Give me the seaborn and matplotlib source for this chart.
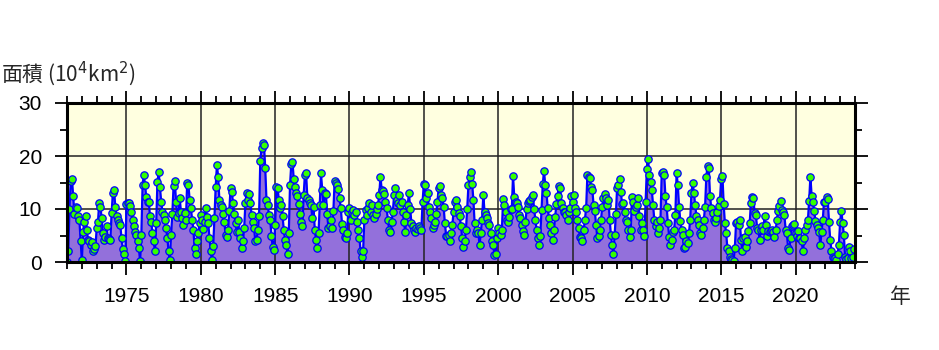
import numpy as np
import pandas as pd
import matplotlib
matplotlib.use('Agg')
import matplotlib.pyplot as plt
from matplotlib.ticker import MultipleLocator
import seaborn as sns

# ── Data (monthly values, 10^4 km^2) ─────────────────────────────────────────
START_YEAR = 1971

area_1970s = [
    0.0, 2.0, 10.0, 15.3, 15.7, 12.4, 9.0, 10.4, 10.2, 8.6, 8.0, 3.9,    # 1971
    0.4, 5.7, 7.6, 8.7, 6.0, 4.2, 3.9, 3.2, 3.7, 2.0, 2.5, 3.0,          # 1972
    6.5, 7.6, 11.2, 10.3, 8.3, 5.4, 4.2, 4.8, 6.7, 4.5, 4.4, 4.2,        # 1973
    9.2, 13.0, 13.6, 10.3, 8.6, 8.0, 7.3, 7.0, 4.5, 2.5, 1.6, 0.2,       # 1974
    10.9, 11.2, 11.1, 10.6, 9.5, 8.0, 6.7, 5.7, 5.1, 4.0, 2.6, 0.2,      # 1975
    5.1, 14.5, 16.5, 14.5, 12.2, 11.3, 11.4, 8.6, 7.5, 5.4, 3.9, 2.0,    # 1976
    7.3, 15.1, 17.0, 14.2, 11.4, 9.5, 8.9, 8.0, 6.4, 4.5, 2.0, 0.4,      # 1977
    5.1, 9.0, 14.3, 15.3, 11.4, 8.4, 9.2, 12.0, 9.4, 8.3, 7.0, 9.2,      # 1978
    8.0, 15.0, 14.5, 11.7, 10.1, 8.0, 6.1, 2.6, 1.5, 3.9, 5.5, 7.3,      # 1979
]
area_1980s = [
    8.9, 8.0, 6.3, 7.6, 10.1, 8.5, 7.3, 4.5, 2.0, 0.4, 3.0, 8.3,         # 1980
    14.2, 18.3, 16.1, 11.7, 10.8, 10.3, 9.0, 7.6, 5.1, 4.8, 6.0, 9.7,    # 1981
    13.9, 13.3, 11.1, 9.0, 7.3, 5.7, 8.0, 5.7, 4.5, 2.6, 4.0, 6.4,       # 1982
    11.1, 13.1, 11.7, 12.8, 11.1, 8.9, 7.5, 6.4, 3.9, 4.2, 6.0, 8.6,     # 1983
    19.0, 21.5, 22.4, 22.1, 17.7, 11.7, 10.8, 8.9, 8.0, 5.0, 2.9, 2.3,   # 1984
    7.0, 14.2, 13.9, 11.7, 10.1, 10.8, 8.6, 6.0, 4.2, 3.2, 1.6, 5.4,     # 1985
    14.5, 18.4, 18.8, 15.7, 14.2, 13.0, 12.4, 11.0, 9.0, 7.6, 6.7, 12.6, # 1986
    16.5, 16.7, 12.0, 11.7, 11.1, 10.8, 8.3, 10.4, 6.0, 4.2, 2.6, 5.4,   # 1987
    10.8, 16.7, 13.6, 10.8, 13.0, 12.8, 9.0, 6.4, 6.7, 8.0, 6.4, 9.6,    # 1988
    15.3, 15.0, 14.5, 13.7, 12.0, 10.1, 7.1, 6.1, 4.8, 4.6, 5.5, 9.4,    # 1989
]
area_1990s = [
    10.1, 8.0, 9.5, 9.8, 8.9, 9.5, 7.5, 6.0, 4.5, 2.0, 1.0, 2.1,         # 1990
    8.0, 9.8, 8.9, 10.1, 11.1, 9.5, 10.8, 8.9, 8.3, 9.0, 10.0, 10.8,     # 1991
    12.6, 16.1, 13.6, 13.4, 12.8, 11.4, 10.1, 8.0, 6.1, 5.7, 7.5, 9.5,   # 1992
    12.6, 14.0, 11.7, 11.1, 12.6, 10.8, 11.4, 9.5, 7.5, 5.7, 8.9, 10.8,  # 1993
    13.0, 10.0, 7.3, 6.7, 6.1, 5.7, 6.4, 6.3, 6.7, 6.4, 6.0, 11.4,       # 1994
    14.8, 14.6, 12.0, 13.1, 10.3, 9.5, 8.3, 6.4, 6.9, 7.5, 9.0, 11.4,    # 1995
    13.9, 14.4, 12.6, 12.0, 10.4, 7.3, 5.0, 4.9, 5.1, 4.0, 5.4, 7.0,     # 1996
    9.4, 11.4, 11.7, 10.4, 9.2, 8.6, 6.7, 4.5, 2.9, 4.0, 6.1, 10.0,      # 1997
    14.5, 16.1, 17.0, 14.8, 11.7, 7.3, 5.5, 6.1, 5.4, 3.2, 5.5, 8.0,     # 1998
    12.6, 9.5, 8.9, 8.3, 7.3, 7.0, 5.4, 4.0, 3.2, 1.3, 1.6, 4.5,         # 1999
]
area_2000s = [
    6.4, 5.5, 5.1, 6.1, 11.9, 10.8, 9.5, 8.0, 7.6, 8.5, 10.0, 10.0,      # 2000
    16.3, 12.2, 11.4, 11.1, 10.4, 8.9, 8.3, 7.0, 5.9, 5.1, 7.5, 10.0,    # 2001
    11.1, 11.5, 11.7, 12.2, 12.6, 10.0, 8.0, 6.1, 4.5, 3.2, 5.0, 9.8,    # 2002
    14.7, 17.2, 14.5, 13.1, 10.1, 8.3, 7.0, 5.4, 4.2, 6.0, 8.5, 10.9,    # 2003
    12.5, 14.4, 14.0, 11.2, 10.1, 9.5, 9.4, 8.9, 8.0, 9.5, 10.1, 12.5,   # 2004
    11.4, 12.6, 10.1, 9.5, 8.0, 6.5, 4.8, 4.5, 3.9, 6.0, 8.0, 10.1,      # 2005
    16.4, 16.1, 15.9, 14.2, 13.6, 10.8, 9.7, 7.0, 4.6, 5.0, 6.1, 8.0,    # 2006
    10.4, 12.0, 12.8, 12.0, 10.8, 11.7, 8.0, 5.1, 3.2, 1.6, 5.1, 9.0,    # 2007
    14.0, 14.6, 15.7, 13.3, 10.9, 11.2, 9.5, 8.0, 7.6, 6.1, 4.8, 6.0,    # 2008
    12.2, 11.4, 9.7, 10.4, 10.8, 12.0, 8.6, 6.1, 7.3, 6.1, 5.0, 11.4,    # 2009
]
area_2010s = [
    17.6, 19.4, 16.5, 15.1, 13.6, 10.8, 8.0, 6.7, 7.6, 5.4, 6.5, 8.0,    # 2010
    16.7, 16.9, 16.4, 12.4, 10.3, 7.3, 4.8, 3.2, 4.2, 5.7, 6.0, 8.9,     # 2011
    16.7, 14.5, 10.4, 7.8, 6.1, 5.1, 2.6, 2.9, 3.9, 3.6, 5.5, 8.0,       # 2012
    13.1, 15.0, 13.0, 10.8, 8.6, 8.0, 7.0, 5.4, 5.1, 6.5, 8.0, 10.4,     # 2013
    16.1, 18.2, 17.8, 12.4, 10.1, 9.2, 8.0, 7.6, 8.3, 9.5, 10.5, 11.7,   # 2014
    15.7, 16.3, 10.9, 7.3, 5.5, 2.6, 2.0, 1.0, 0.6, 0.4, 0.2, 2.6,       # 2015
    7.3, 7.5, 7.0, 8.0, 4.2, 2.0, 4.5, 4.8, 2.9, 4.0, 5.9, 7.3,          # 2016
    11.2, 12.2, 12.0, 9.2, 8.9, 6.4, 6.1, 4.2, 6.1, 6.7, 6.1, 8.6,       # 2017
    7.0, 5.0, 5.9, 5.7, 5.9, 6.1, 5.7, 4.8, 6.0, 8.0, 9.7, 10.6,         # 2018
    11.5, 9.8, 9.5, 8.9, 6.1, 5.4, 2.6, 2.3, 4.5, 6.7, 7.0, 7.1,         # 2019
]
area_2020s = [
    5.4, 5.0, 5.9, 4.6, 4.5, 3.9, 2.0, 4.5, 6.0, 7.0, 8.0, 11.5,         # 2020
    16.1, 12.5, 11.4, 9.7, 7.8, 7.0, 6.4, 5.7, 3.2, 5.7, 8.0, 11.4,      # 2021
    11.4, 12.2, 11.9, 7.6, 4.2, 2.1, 1.0, 0.7, 0.8, 0.4, 1.5, 3.3,       # 2022
    7.6, 9.7, 7.3, 5.1, 1.0, 0.6, 0.8, 2.9, 2.0, 0.7, 1.0, 2.5,          # 2023
]

values = area_1970s + area_1980s + area_1990s + area_2000s + area_2010s + area_2020s
df = pd.DataFrame({'area': values})
df['year'] = START_YEAR + np.arange(len(df)) / 12.0

# ── Style ────────────────────────────────────────────────────────────────────
sns.set_theme(style='white')
plt.rcParams['font.family'] = ['Liberation Sans', 'DejaVu Sans']
plt.rcParams['mathtext.fontset'] = 'dejavusans'
CJK = ['Noto Sans CJK JP', 'DejaVu Sans']

C = {'fill': '#9370DB', 'line': '#0000FF', 'marker': '#33FF00', 'bg': '#FFFFE0'}

fig = plt.figure(figsize=(9.39, 3.5), dpi=100)
ax = fig.add_axes([67 / 939, 88 / 350, 788 / 939, 159 / 350])
ax.set_facecolor(C['bg'])

ax.fill_between(df['year'], df['area'], 0, color=C['fill'], lw=0, zorder=1)
sns.lineplot(data=df, x='year', y='area', ax=ax, color=C['line'], lw=1.6,
             marker='o', markersize=5.3, markerfacecolor=C['marker'],
             markeredgecolor=C['line'], markeredgewidth=0.9, zorder=3)

ax.set_xlim(1971, 2024)
ax.set_ylim(0, 30)
ax.xaxis.set_major_locator(MultipleLocator(5))
ax.xaxis.set_minor_locator(MultipleLocator(1))
ax.yaxis.set_major_locator(MultipleLocator(10))
ax.yaxis.set_minor_locator(MultipleLocator(5))

ax.set_axisbelow(False)
ax.grid(which='major', color='#222222', lw=1.1, zorder=2)
ax.tick_params(which='both', direction='out', top=True, right=True,
               bottom=True, left=True, colors='black', width=1.3)
ax.tick_params(which='major', length=9, labelsize=15, pad=9)
ax.tick_params(which='minor', length=5)
for s in ax.spines.values():
    s.set_linewidth(2.2)
    s.set_color('black')
    s.set_zorder(4)
ax.set_xlabel('')
ax.set_ylabel('')

fig.text(1 / 939, 1 - 74 / 350, '面積 (10$^4$km$^2$)', fontsize=15,
         family=CJK, ha='left', va='center')
fig.text(900 / 939, 1 - 297 / 350, '年', fontsize=15, family=CJK,
         ha='center', va='center')

fig.savefig('out.png', dpi=100, facecolor='white')
